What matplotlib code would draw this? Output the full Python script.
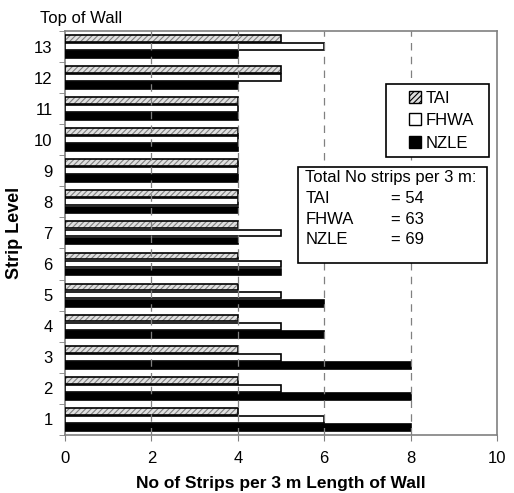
import matplotlib.pyplot as plt
from matplotlib.patches import Patch, Rectangle
import numpy as np

plt.rcParams["font.family"] = ["Liberation Sans", "DejaVu Sans"]
plt.rcParams["hatch.linewidth"] = 0.8

levels = list(range(1, 14))
tai = [4, 4, 4, 4, 4, 4, 4, 4, 4, 4, 4, 5, 5]
fhwa = [6, 5, 5, 5, 5, 5, 5, 4, 4, 4, 4, 5, 6]
nzle = [8, 8, 8, 6, 6, 5, 4, 4, 4, 4, 4, 4, 4]
totals = {"TAI": 54, "FHWA": 63, "NZLE": 69}

fig = plt.figure(figsize=(5.14, 4.93), dpi=100)
ax = fig.add_axes([0.1265, 0.118, 0.8405, 0.819])

y = np.array(levels, dtype=float)
h = 0.22
step = 0.26

# TAI: grey hatched fill, then a black outline on top
ax.barh(y + step, tai, height=h, color="#e0e0e0", edgecolor="#808080",
        hatch="//////", linewidth=0, zorder=2)
ax.barh(y + step, tai, height=h, facecolor="none", edgecolor="black",
        linewidth=1.2, zorder=3)
ax.barh(y, fhwa, height=h, color="white", edgecolor="black", linewidth=1.2,
        zorder=3)
ax.barh(y - step, nzle, height=h, color="black", edgecolor="black",
        linewidth=1.2, zorder=3)

ax.set_xlim(0, 10)
ax.set_ylim(0.5, 13.5)
ax.set_xticks(range(0, 11, 2))
ax.set_yticks(levels)
ax.set_yticks(np.arange(0.5, 14, 1), minor=True)
ax.tick_params(axis="y", which="major", length=0, labelsize=12, pad=9)
ax.tick_params(axis="y", which="minor", length=4, color="#808080")
ax.tick_params(axis="x", length=4, color="#808080", labelsize=12, pad=8)

for x in [2, 4, 6, 8]:
    ax.axvline(x, color="#808080", linestyle=(0, (6, 5)), linewidth=0.9,
               zorder=4)

for s in ax.spines.values():
    s.set_color("#808080")
    s.set_linewidth(1.2)

ax.set_xlabel("No of Strips per 3 m Length of Wall", fontsize=12.5,
              fontweight="bold", labelpad=7)
ax.set_ylabel("Strip Level", fontsize=13, fontweight="bold", labelpad=8)
fig.text(0.078, 0.978, "Top of Wall", fontsize=12, va="top")

# legend: frameless, with its own box so there is room on the left
ax.add_patch(Rectangle((0.743, 0.688), 0.238, 0.181, transform=ax.transAxes,
                       facecolor="white", edgecolor="black", linewidth=1.2,
                       zorder=5))
leg_handles = [
    Patch(facecolor="#e0e0e0", edgecolor="black", hatch="//////"),
    Patch(facecolor="white", edgecolor="black"),
    Patch(facecolor="black", edgecolor="black"),
]
leg = ax.legend(leg_handles, ["TAI", "FHWA", "NZLE"], loc="upper left",
                bbox_to_anchor=(0.78, 0.869), fontsize=12, frameon=False,
                handlelength=0.75, handleheight=0.75, handletextpad=0.25,
                borderpad=0.4, labelspacing=0.45, borderaxespad=0)
leg.set_zorder(6)

# totals box
ax.add_patch(Rectangle((0.539, 0.426), 0.438, 0.237, transform=ax.transAxes,
                       facecolor="white", edgecolor="black", linewidth=1.2,
                       zorder=6))
ax.text(0.556, 0.637, "Total No strips per 3 m:", transform=ax.transAxes,
        fontsize=12, va="center", zorder=7)
for i, (k, v) in enumerate(totals.items()):
    yy = 0.585 - 0.051 * i
    ax.text(0.556, yy, k, transform=ax.transAxes, fontsize=12, va="center",
            zorder=7)
    ax.text(0.755, yy, f"= {v}", transform=ax.transAxes, fontsize=12,
            va="center", zorder=7)

fig.savefig("out.png", dpi=100)
